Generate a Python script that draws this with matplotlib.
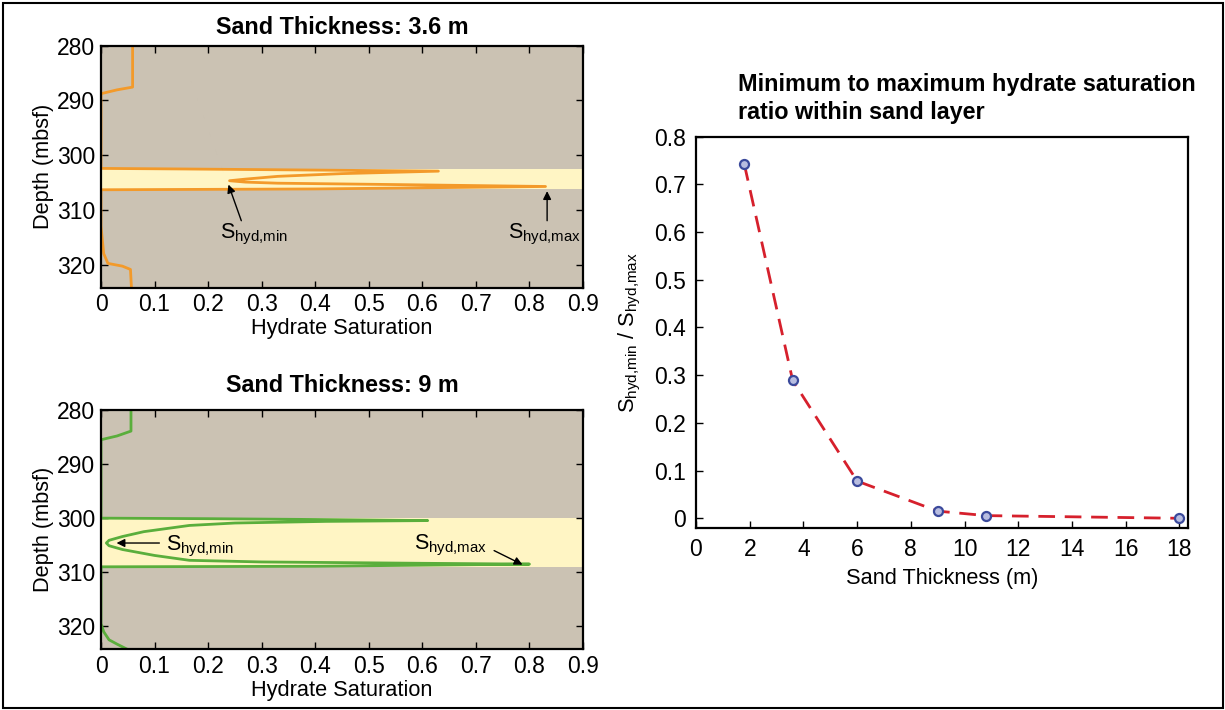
import matplotlib
matplotlib.use("Agg")
import matplotlib.pyplot as plt
from matplotlib.patches import Rectangle

plt.rcParams['font.family'] = ['Liberation Sans', 'DejaVu Sans']
plt.rcParams['mathtext.fontset'] = 'custom'
plt.rcParams['mathtext.rm'] = 'Liberation Sans'
plt.rcParams['mathtext.it'] = 'Liberation Sans'
plt.rcParams['mathtext.bf'] = 'Liberation Sans:bold'

# ---------------- data ----------------
# Panel 1: sand thickness 3.6 m  (hydrate saturation vs depth)
sat_36 = [0.059, 0.059, 0.03, 0.0, 0.0, 0.15, 0.40, 0.63, 0.45, 0.33, 0.27, 0.24, 0.27, 0.33,
          0.55, 0.83, 0.40, 0.0, 0.0, 0.005, 0.013, 0.04, 0.055, 0.057]
depth_36 = [280, 287.6, 288.1, 288.8, 302.45, 302.55, 302.75, 302.95, 303.4, 303.9, 304.4, 304.7,
            304.95, 305.15, 305.4, 305.75, 306.2, 306.35, 313, 318, 319.8, 320.3, 320.9, 324.5]
sand_36 = (302.5, 306.3)

# Panel 2: sand thickness 9 m
sat_9 = [0.056, 0.056, 0.03, 0.0, 0.0, 0.2, 0.4, 0.61, 0.42, 0.25, 0.165, 0.08, 0.04, 0.015, 0.01,
         0.015, 0.04, 0.1, 0.165, 0.3, 0.6, 0.8, 0.4, 0.0, 0.0, 0.005, 0.015, 0.03, 0.05]
depth_9 = [280, 283.9, 284.8, 285.5, 300.0, 300.1, 300.25, 300.45, 300.6, 300.9, 301.35, 302.5,
           303.4, 304.1, 304.6, 305.1, 305.8, 306.9, 307.8, 308.1, 308.35, 308.5, 308.9, 309.0,
           319.5, 321, 322.5, 323.3, 324.3]
sand_9 = (300.0, 309.0)

# Panel 3: ratio vs sand thickness
thickness = [1.8, 3.6, 6.0, 9.0, 10.8, 18.0]
ratio = [0.742, 0.289, 0.078, 0.015, 0.0056, 0.0]

sat_ticks = [0, 0.1, 0.2, 0.3, 0.4, 0.5, 0.6, 0.7, 0.8, 0.9]
sat_ticklabels = ['0', '0.1', '0.2', '0.3', '0.4', '0.5', '0.6', '0.7', '0.8', '0.9']
depth_ticks = [280, 290, 300, 310, 320]
thick_ticks = [0, 2, 4, 6, 8, 10, 12, 14, 16, 18]
ratio_ticks = [0, 0.1, 0.2, 0.3, 0.4, 0.5, 0.6, 0.7, 0.8]
ratio_ticklabels = ['0', '0.1', '0.2', '0.3', '0.4', '0.5', '0.6', '0.7', '0.8']

CLAY = '#cbc2b3'
SAND = '#fff5c4'
ORANGE = '#f39a2a'
GREEN = '#5aae3c'

TICK_FS = 16.5
LABEL_FS = 15.7
TITLE_FS = 16.8
ANN_FS = 15.5

W, H = 1225, 710
fig = plt.figure(figsize=(W / 100, H / 100), dpi=100)


def ax_px(l, t, r, b):
    return fig.add_axes([l / W, 1 - b / H, (r - l) / W, (b - t) / H])


def style_profile(ax, title, title_pad):
    ax.set_facecolor(CLAY)
    ax.set_xlim(0, 0.9)
    ax.set_ylim(324.2, 280)
    ax.set_xticks(sat_ticks)
    ax.set_xticklabels(sat_ticklabels)
    ax.set_yticks(depth_ticks)
    ax.tick_params(direction='in', top=True, right=True, length=5, width=1,
                   labelsize=TICK_FS, pad=4)
    for s in ax.spines.values():
        s.set_linewidth(1.6)
    ax.set_xlabel('Hydrate Saturation', fontsize=LABEL_FS, labelpad=1.5)
    ax.set_ylabel('Depth (mbsf)', fontsize=LABEL_FS, labelpad=2)
    ax.set_title(title, fontsize=TITLE_FS, fontweight='bold', pad=title_pad)


arrow = dict(arrowstyle='-|>', color='black', lw=1.0, mutation_scale=12, shrinkA=0, shrinkB=0)
S_MIN = r'S$_{\mathrm{hyd{,}min}}$'
S_MAX = r'S$_{\mathrm{hyd{,}max}}$'

# ---- top-left ----
ax1 = ax_px(101, 45.5, 583, 287.5)
style_profile(ax1, 'Sand Thickness: 3.6 m', 8)
ax1.axhspan(sand_36[0], sand_36[1], color=SAND, zorder=0.5, lw=0)
ax1.plot(sat_36, depth_36, color=ORANGE, lw=2, zorder=2)
ax1.annotate('', xy=(0.238, 305.4), xytext=(0.262, 312.0), arrowprops=arrow)
ax1.text(0.286, 314.6, S_MIN, fontsize=ANN_FS, ha='center', va='center')
ax1.annotate('', xy=(0.833, 306.6), xytext=(0.833, 312.0), arrowprops=arrow)
ax1.text(0.829, 314.6, S_MAX, fontsize=ANN_FS, ha='center', va='center')

# ---- bottom-left ----
ax2 = ax_px(101, 410, 583, 649)
style_profile(ax2, 'Sand Thickness: 9 m', 13)
ax2.axhspan(sand_9[0], sand_9[1], color=SAND, zorder=0.5, lw=0)
ax2.plot(sat_9, depth_9, color=GREEN, lw=2, zorder=2)
ax2.annotate('', xy=(0.029, 304.6), xytext=(0.109, 304.6), arrowprops=arrow)
ax2.text(0.122, 305.3, S_MIN, fontsize=ANN_FS, ha='left', va='center')
ax2.annotate('', xy=(0.787, 308.6), xytext=(0.734, 306.0), arrowprops=arrow)
ax2.text(0.585, 305.0, S_MAX, fontsize=ANN_FS, ha='left', va='center')

# ---- right ----
ax3 = ax_px(696, 136.7, 1187.5, 528.3)
ax3.plot(thickness, ratio, color='#d6202c', lw=2, dashes=(6, 3.5), zorder=2)
ax3.plot(thickness, ratio, ls='none', marker='o', ms=6.5, mec='#3b4a9c',
         mfc='#b8bde0', mew=1.6, zorder=3)
ax3.set_xlim(0, 18.3)
ax3.set_ylim(-0.021, 0.8)
ax3.set_xticks(thick_ticks)
ax3.set_yticks(ratio_ticks)
ax3.set_yticklabels(ratio_ticklabels)
ax3.tick_params(direction='in', length=5, width=1, labelsize=TICK_FS, pad=7)
for s in ax3.spines.values():
    s.set_linewidth(1.6)
ax3.set_xlabel('Sand Thickness (m)', fontsize=LABEL_FS, labelpad=5)
ax3.set_ylabel(r'S$_{\mathrm{hyd{,}min}}$ / S$_{\mathrm{hyd{,}max}}$', fontsize=LABEL_FS, labelpad=8)
fig.text(738 / W, 1 - 85 / H, 'Minimum to maximum hydrate saturation',
         fontsize=TITLE_FS, fontweight='bold', ha='left', va='center')
fig.text(738 / W, 1 - 113 / H, 'ratio within sand layer',
         fontsize=TITLE_FS, fontweight='bold', ha='left', va='center')

# outer border
fig.patches.append(Rectangle((2.5 / W, 2.5 / H), (W - 5) / W, (H - 5) / H,
                             transform=fig.transFigure, fill=False,
                             edgecolor='black', lw=1.5))

fig.savefig('out.png', dpi=100)
